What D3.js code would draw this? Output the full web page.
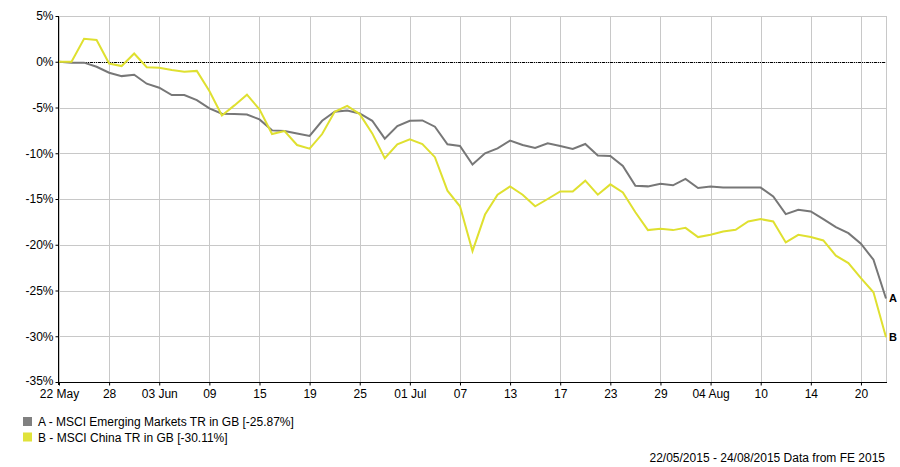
<!DOCTYPE html>
<html>
<head>
<meta charset="utf-8">
<script src="https://cdn.jsdelivr.net/npm/d3@7/dist/d3.min.js"></script>
<style>
  html, body { margin: 0; padding: 0; background: #fff; }
  svg { display: block; }
  text { font-family: "Liberation Sans", Arial, sans-serif; fill: #000; }
</style>
</head>
<body>
<svg id="chart" width="900" height="467"></svg>
<script>
// ---- data ----
const dates = [
  "2015-05-22","2015-05-25","2015-05-26","2015-05-27","2015-05-28","2015-05-29",
  "2015-06-01","2015-06-02","2015-06-03","2015-06-04","2015-06-05",
  "2015-06-08","2015-06-09","2015-06-10","2015-06-11","2015-06-12",
  "2015-06-15","2015-06-16","2015-06-17","2015-06-18","2015-06-19",
  "2015-06-22","2015-06-23","2015-06-24","2015-06-25","2015-06-26",
  "2015-06-29","2015-06-30","2015-07-01","2015-07-02","2015-07-03",
  "2015-07-06","2015-07-07","2015-07-08","2015-07-09","2015-07-10",
  "2015-07-13","2015-07-14","2015-07-15","2015-07-16","2015-07-17",
  "2015-07-20","2015-07-21","2015-07-22","2015-07-23","2015-07-24",
  "2015-07-27","2015-07-28","2015-07-29","2015-07-30","2015-07-31",
  "2015-08-03","2015-08-04","2015-08-05","2015-08-06","2015-08-07",
  "2015-08-10","2015-08-11","2015-08-12","2015-08-13","2015-08-14",
  "2015-08-17","2015-08-18","2015-08-19","2015-08-20","2015-08-21",
  "2015-08-24"
];
const seriesA = [
  0, -0.1, -0.1, -0.55, -1.2, -1.57, -1.42, -2.4, -2.84, -3.64, -3.64,
  -4.19, -5.1, -5.68, -5.7, -5.76, -6.3, -7.5, -7.57, -7.85, -8.1,
  -6.45, -5.47, -5.33, -5.65, -6.45, -8.4, -7.03, -6.45, -6.41, -7.1,
  -9.02, -9.2, -11.23, -10.0, -9.46, -8.62, -9.09, -9.42, -8.91, -9.2,
  -9.53, -8.99, -10.25, -10.29, -11.38, -13.55, -13.62, -13.33, -13.5, -12.8,
  -13.8, -13.64, -13.75, -13.75, -13.75, -13.75, -14.73, -16.65, -16.18, -16.36,
  -17.2, -18.07, -18.73, -19.89, -21.64, -25.87
];
const seriesB = [
  0, 0, 2.5, 2.37, -0.2, -0.47, 0.9, -0.6, -0.65, -0.9, -1.1,
  -1.0, -3.2, -5.87, -4.77, -3.6, -5.2, -7.9, -7.57, -9.1, -9.5,
  -7.9, -5.47, -4.82, -5.72, -7.83, -10.54, -9.02, -8.48, -8.99, -10.43,
  -14.09, -15.8, -20.69, -16.7, -14.53, -13.62, -14.53, -15.8, -15.0, -14.17,
  -14.17, -13.0, -14.53, -13.4, -14.28, -16.45, -18.4, -18.26, -18.4, -18.15,
  -19.16, -18.91, -18.55, -18.36, -17.45, -17.2, -17.45, -19.75, -18.91, -19.16,
  -19.53, -21.2, -22.0, -23.64, -25.2, -30.11
];
const tickDates = ["2015-05-22","2015-05-28","2015-06-03","2015-06-09","2015-06-15","2015-06-19",
  "2015-06-25","2015-07-01","2015-07-07","2015-07-13","2015-07-17","2015-07-23","2015-07-29",
  "2015-08-04","2015-08-10","2015-08-14","2015-08-20"];
const tickLabels = ["22 May","28","03 Jun","09","15","19","25","01 Jul","07","13","17","23","29",
  "04 Aug","10","14","20"];
const yTicks = [5, 0, -5, -10, -15, -20, -25, -30, -35];
const seriesNames = ["A - MSCI Emerging Markets TR in GB [-25.87%]", "B - MSCI China TR in GB [-30.11%]"];
const seriesTags = ["A", "B"];
const footerText = "22/05/2015 - 24/08/2015 Data from FE 2015";

// ---- layout ----
const svg = d3.select("#chart");
const L = 58, R = 886, T = 16, B = 382;
const colors = ["#777777", "#dfe030"];
const legendColors = ["#808080", "#e0e23a"];

const x = d3.scalePoint().domain(dates).range([L + 1, R]);
const y = d3.scaleLinear().domain([-35, 5]).range([B, T]);

// grid
const grid = svg.append("g").attr("shape-rendering", "crispEdges");
grid.selectAll("line.h").data(yTicks.filter(v => v > -35)).join("line")
  .attr("x1", L).attr("x2", R)
  .attr("y1", d => Math.round(y(d)) + 0.5).attr("y2", d => Math.round(y(d)) + 0.5)
  .attr("stroke", "#c8c8c8").attr("stroke-width", 1);
grid.selectAll("line.v").data(tickDates).join("line")
  .attr("x1", d => Math.round(x(d)) + 0.5).attr("x2", d => Math.round(x(d)) + 0.5)
  .attr("y1", T).attr("y2", B)
  .attr("stroke", "#c8c8c8").attr("stroke-width", 1);
grid.append("line").attr("x1", R + 0.5).attr("x2", R + 0.5).attr("y1", T).attr("y2", B)
  .attr("stroke", "#c8c8c8");

// zero line
svg.append("line")
  .attr("x1", L).attr("x2", R)
  .attr("y1", Math.round(y(0)) + 0.5).attr("y2", Math.round(y(0)) + 0.5)
  .attr("stroke", "#000").attr("stroke-width", 1)
  .attr("stroke-dasharray", "3,1,1,1,1,1")
  .attr("shape-rendering", "crispEdges");

// lines
const line = d3.line().x((d, i) => x(dates[i])).y(d => y(d));
[seriesA, seriesB].forEach((s, k) => {
  svg.append("path").datum(s)
    .attr("d", line)
    .attr("fill", "none")
    .attr("stroke", colors[k])
    .attr("stroke-width", 2)
    .attr("stroke-linejoin", "miter");
});

// y axis
const yAxis = d3.axisLeft(y).tickValues(yTicks).tickSize(3).tickPadding(2)
  .tickFormat(d => d + "%");
const gy = svg.append("g").attr("transform", `translate(${L + 0.5},0)`).call(yAxis);
gy.select(".domain").attr("stroke", "#000").attr("d", `M0,${T}V${B + 3}`);
gy.selectAll(".tick line").attr("stroke", "#000");
gy.selectAll("text").attr("font-size", 12).attr("font-family", "Liberation Sans, Arial, sans-serif")
  .attr("fill", "#000");
gy.selectAll(".tick").filter(d => d === -35).select("text").attr("dy", "0.2em");

// x axis
const xAxis = d3.axisBottom(x).tickValues(tickDates).tickSize(3).tickPadding(4)
  .tickFormat((d, i) => tickLabels[i]);
const gx = svg.append("g").attr("transform", `translate(0,${B + 0.5})`).call(xAxis);
gx.select(".domain").attr("stroke", "#000").attr("d", `M${L},0H${R + 1}`);
gx.selectAll(".tick line").attr("stroke", "#000");
gx.selectAll("text").attr("font-size", 12).attr("font-family", "Liberation Sans, Arial, sans-serif")
  .attr("fill", "#000");

// end labels
[seriesA, seriesB].forEach((s, k) => {
  svg.append("text")
    .attr("x", R + 3)
    .attr("y", y(s[s.length - 1]) + 4)
    .attr("font-size", 11).attr("font-weight", "bold")
    .text(seriesTags[k]);
});

// legend
const lg = svg.append("g");
seriesNames.forEach((n, k) => {
  lg.append("rect").attr("x", 23).attr("y", 417 + k * 15.5).attr("width", 9).attr("height", 9)
    .attr("fill", legendColors[k]);
  lg.append("text").attr("x", 38).attr("y", 426 + k * 15.5).attr("font-size", 12).text(n);
});

// footer
svg.append("text").attr("x", 885).attr("y", 462).attr("text-anchor", "end")
  .attr("font-size", 12).text(footerText);
</script>
</body>
</html>
